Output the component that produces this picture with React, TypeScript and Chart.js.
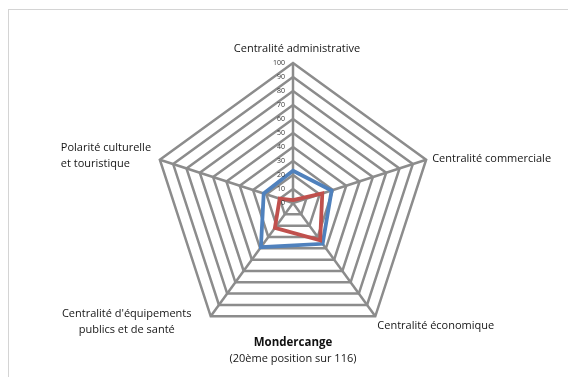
import React, { useEffect, useRef } from "react";
import { Chart, registerables } from "chart.js";

Chart.register(...registerables);

const categories: string[][] = [
  ["Centralité administrative"],
  ["Centralité commerciale"],
  ["Centralité économique"],
  ["Centralité d'équipements", "publics et de santé"],
  ["Polarité culturelle", "et touristique"],
];
const blueValues = [23, 29, 36, 39, 22];
const redValues = [2, 22, 33, 22, 10];
const tickValues = [0, 10, 20, 30, 40, 50, 60, 70, 80, 90, 100];
const titleText = "Mondercange";
const subtitleText = "(20ème position sur 116)";

const FONT = "'Open Sans', sans-serif";

const labelLayout = [
  { dx: 4, dy: -14, align: "center" as CanvasTextAlign, lineH: 16 },
  { dx: 6, dy: -1, align: "left" as CanvasTextAlign, lineH: 16 },
  { dx: 2, dy: 10, align: "left" as CanvasTextAlign, lineH: 16 },
  { dx: -84, dy: -2, align: "center" as CanvasTextAlign, lineH: 16 },
  { dx: -99, dy: -12, align: "left" as CanvasTextAlign, lineH: 16 },
];

const labelsPlugin = {
  id: "customLabels",
  afterDraw(chart: any) {
    const scale = chart.scales.r;
    const ctx = chart.ctx as CanvasRenderingContext2D;
    ctx.save();
    ctx.fillStyle = "#151515";
    ctx.textBaseline = "middle";
    ctx.font = `11px ${FONT}`;
    categories.forEach((lines, i) => {
      const p = scale.getPointPosition(i, scale.drawingArea);
      const lay = labelLayout[i];
      ctx.textAlign = lay.align;
      lines.forEach((ln, j) => {
        ctx.fillText(ln, p.x + lay.dx, p.y + lay.dy + j * lay.lineH);
      });
    });
    ctx.font = `7px ${FONT}`;
    ctx.fillStyle = "#333";
    ctx.textAlign = "right";
    tickValues.forEach((v) => {
      const d = scale.getDistanceFromCenterForValue(v);
      ctx.fillText(String(v), scale.xCenter - 8, scale.yCenter - d);
    });
    ctx.textAlign = "center";
    ctx.fillStyle = "#111";
    ctx.font = `bold 11.5px ${FONT}`;
    ctx.fillText(titleText, scale.xCenter, scale.yCenter + scale.drawingArea);
    ctx.font = `11px ${FONT}`;
    ctx.fillStyle = "#151515";
    ctx.fillText(subtitleText, scale.xCenter, scale.yCenter + scale.drawingArea + 16);
    ctx.restore();
  },
};

export default function App() {
  const ref = useRef<HTMLCanvasElement>(null);
  useEffect(() => {
    if (!ref.current) return;
    const chart = new Chart(ref.current, {
      type: "radar",
      data: {
        labels: categories,
        datasets: [
          {
            label: "red",
            data: redValues,
            borderColor: "#C0504D",
            borderWidth: 3.8,
            pointRadius: 0,
            fill: false,
            tension: 0,
          },
          {
            label: "blue",
            data: blueValues,
            borderColor: "#4F81BD",
            borderWidth: 3.8,
            pointRadius: 0,
            fill: false,
            tension: 0,
          },
        ],
      },
      options: {
        animation: false,
        responsive: false,
        maintainAspectRatio: false,
        layout: { padding: { left: 144, right: 135, top: 53, bottom: 33 } },
        plugins: {
          legend: { display: false },
          tooltip: { enabled: false },
          title: { display: false },
        },
        scales: {
          r: {
            min: 0,
            max: 100,
            ticks: { stepSize: 10, display: false },
            grid: { color: "#8c8c8c", lineWidth: 2.5 },
            angleLines: { color: "#8c8c8c", lineWidth: 2.5 },
            pointLabels: { display: false },
          },
        },
      },
      plugins: [labelsPlugin],
    });
    return () => chart.destroy();
  }, []);
  return (
    <div
      style={{
        position: "fixed",
        left: 8,
        top: 9,
        width: 640,
        height: 440,
        borderTop: "1px solid #d4d4d4",
        borderLeft: "1px solid #d4d4d4",
        background: "#fff",
      }}
    >
      <canvas ref={ref} width={559} height={366} style={{ display: "block" }} />
    </div>
  );
}
